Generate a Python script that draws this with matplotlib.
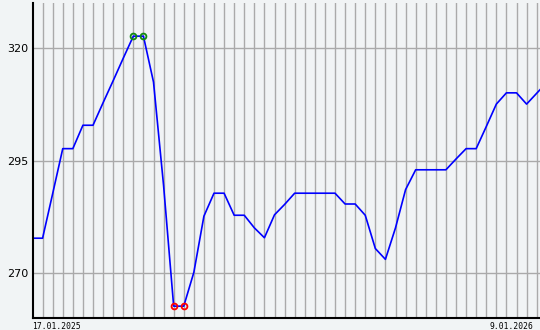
import numpy as np
import matplotlib
matplotlib.use("Agg")
import matplotlib.pyplot as plt

# weekly values, 17.01.2025 .. 9.01.2026
valores = [277.8, 277.8, 287.7, 297.7, 297.7, 302.9, 302.9, 307.9, 312.8, 317.8,
           322.7, 322.7, 312.5, 289.5, 262.7, 262.7, 270.2, 282.7, 287.8, 287.8,
           282.9, 282.9, 280.1, 277.9, 283.0, 285.3, 287.8, 287.8, 287.8, 287.8,
           287.8, 285.4, 285.4, 282.9, 275.5, 273.1, 280.1, 288.6, 293.0, 293.0,
           293.0, 293.0, 295.4, 297.7, 297.7, 302.6, 307.6, 310.1, 310.1, 307.6,
           310.0, 312.4]
data_inicio = "17.01.2025"
data_fim = "9.01.2026"
yticks = [270, 295, 320]

fundo = "#f1f4f5"
semanas = np.arange(len(valores))
v = np.array(valores)

fig = plt.figure(figsize=(5.4, 3.3), dpi=100, facecolor=fundo)
ax = fig.add_axes([32.5 / 540, 11.7 / 330, (540 - 32.5) / 540, (318.3 - 3.3) / 330])
ax.set_facecolor(fundo)

ax.set_xlim(0, 50.33)
ax.set_ylim(260, 330)

# grade
ax.set_xticks(semanas[1:51])
ax.set_xticklabels([])
ax.set_yticks(yticks)
ax.set_yticklabels([str(t) for t in yticks], fontsize=8)
ax.tick_params(length=0, pad=3)
ax.grid(True, color="#aaaaaa", linewidth=1.0)
ax.set_axisbelow(True)

for s in ["top", "right"]:
    ax.spines[s].set_visible(False)
for s in ["left", "bottom"]:
    ax.spines[s].set_linewidth(1.5)
    ax.spines[s].set_color("black")

ax.plot(semanas, v, color="#0000ff", linewidth=1.2)

# maximo e minimo
imax = np.where(v == v.max())[0]
imin = np.where(v == v.min())[0]
ax.plot(semanas[imax], v[imax], "o", mfc="none", mec="#118811", ms=4.2, mew=1.3)
ax.plot(semanas[imin], v[imin], "o", mfc="none", mec="#ff0000", ms=4.2, mew=1.3)

ax.text(0, -0.012, data_inicio, transform=ax.transAxes, ha="left", va="top",
        fontsize=5.8, family="DejaVu Sans Mono")
ax.text(0.986, -0.012, data_fim, transform=ax.transAxes, ha="right", va="top",
        fontsize=5.8, family="DejaVu Sans Mono")

fig.savefig("out.png", dpi=100, facecolor=fundo)
